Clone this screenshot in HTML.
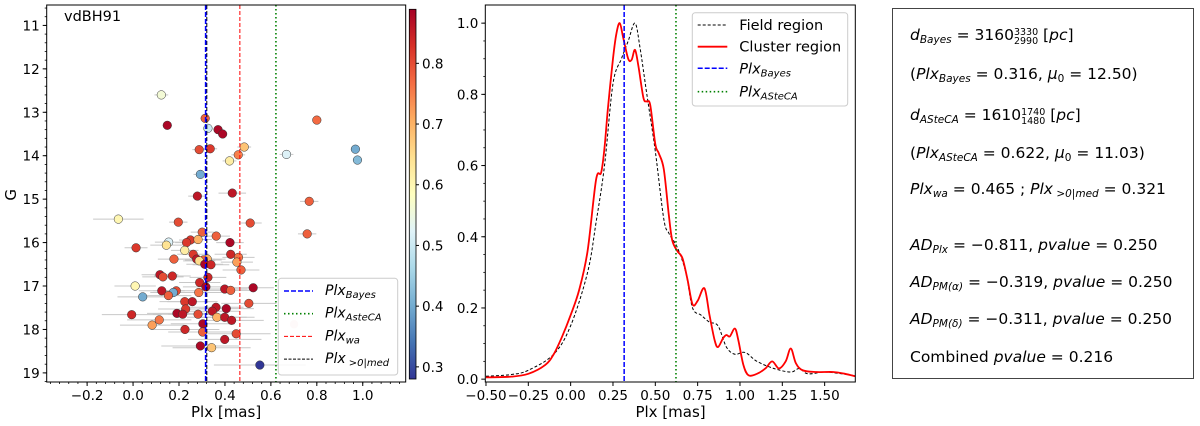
<!DOCTYPE html>
<html><head><meta charset="utf-8"><style>
html,body{margin:0;padding:0;background:#fff;}
svg{display:block;font-family:"DejaVu Sans","Liberation Sans",sans-serif;}
.box{position:absolute;left:892px;top:8px;width:302px;height:371px;border:1.3px solid #444;box-sizing:border-box;}
.t{position:absolute;left:17px;font-family:"DejaVu Sans","Liberation Sans",sans-serif;font-size:15.5px;white-space:nowrap;color:#000;line-height:1;}
i{font-style:italic;}
sub{font-size:10.5px;vertical-align:-3px;font-style:italic;}
.ss{display:inline-block;vertical-align:-4px;font-size:9.5px;line-height:9px;text-align:left;}
</style></head><body>
<div style="position:relative;width:1200px;height:426px;overflow:hidden;">
<svg id="chart" width="1200" height="426"></svg>
<div class="box">
<div class="t" style="top:19px"><i>d</i><sub>Bayes</sub> = 3160<span class="ss">3330<br>2990</span> [<i>pc</i>]</div>
<div class="t" style="top:58px">(<i>Plx</i><sub>Bayes</sub> = 0.316, <i>μ</i><sub style="font-style:normal">0</sub> = 12.50)</div>
<div class="t" style="top:99px"><i>d</i><sub>ASteCA</sub> = 1610<span class="ss">1740<br>1480</span> [<i>pc</i>]</div>
<div class="t" style="top:137px">(<i>Plx</i><sub>ASteCA</sub> = 0.622, <i>μ</i><sub style="font-style:normal">0</sub> = 11.03)</div>
<div class="t" style="top:173px"><i>Plx</i><sub>wa</sub> = 0.465 ; <i>Plx</i><sub> &gt;0|med</sub> = 0.321</div>
<div class="t" style="top:229px"><i>AD</i><sub>Plx</sub> = −0.811, <i>pvalue</i> = 0.250</div>
<div class="t" style="top:266px"><i>AD</i><sub>PM(α)</sub> = −0.319, <i>pvalue</i> = 0.250</div>
<div class="t" style="top:303px"><i>AD</i><sub>PM(δ)</sub> = −0.311, <i>pvalue</i> = 0.250</div>
<div class="t" style="top:341px">Combined <i>pvalue</i> = 0.216</div>
</div>
</div>
<script>
// ---- left panel data ----
const starPlx=[0.123,0.149,0.314,0.326,0.37,0.39,0.80,0.484,0.288,0.336,0.458,0.42,0.668,0.968,0.977,0.293,0.28,0.432,0.767,-0.064,0.197,0.51,0.758,0.301,0.362,0.25,0.233,0.283,0.155,0.145,0.422,0.013,0.225,0.262,0.425,0.459,0.277,0.178,0.323,0.306,0.288,0.452,0.312,0.339,0.470,0.117,0.13,0.171,0.326,0.29,0.009,0.317,0.523,0.399,0.425,0.125,0.188,0.175,0.286,0.154,0.042,0.225,0.258,0.504,0.229,0.361,0.406,0.345,0.191,0.216,0.283,-0.006,0.365,0.399,0.429,0.114,0.083,0.304,0.226,0.303,0.449,0.399,0.293,0.342,0.552];
const starG=[12.6,13.3,13.14,13.37,13.4,13.5,13.18,13.8,13.86,13.84,13.98,14.12,13.97,13.85,14.1,14.43,14.93,14.86,15.05,15.46,15.53,15.55,15.8,15.76,15.85,15.94,16.0,15.93,15.99,16.06,16.0,16.12,16.18,16.27,16.27,16.34,16.38,16.38,16.38,16.4,16.42,16.45,16.5,16.51,16.63,16.74,16.79,16.77,16.8,16.92,17.0,17.02,17.04,17.07,17.1,17.11,17.11,17.15,17.15,17.22,17.25,17.36,17.36,17.4,17.53,17.49,17.52,17.58,17.63,17.65,17.65,17.66,17.72,17.72,17.79,17.78,17.9,17.87,18.0,18.06,18.1,18.23,18.38,18.42,18.82];
const starProb=[0.56,0.88,0.78,0.5,0.88,0.88,0.77,0.68,0.8,0.82,0.75,0.62,0.52,0.4,0.42,0.4,0.86,0.86,0.78,0.6,0.8,0.8,0.78,0.78,0.78,0.82,0.82,0.7,0.52,0.64,0.88,0.82,0.62,0.82,0.84,0.76,0.86,0.78,0.7,0.78,0.65,0.72,0.88,0.84,0.78,0.86,0.8,0.84,0.84,0.84,0.6,0.88,0.88,0.86,0.78,0.86,0.8,0.4,0.76,0.78,0.4,0.82,0.86,0.8,0.82,0.86,0.88,0.86,0.88,0.86,0.8,0.84,0.7,0.86,0.86,0.76,0.72,0.88,0.84,0.78,0.8,0.86,0.88,0.68,0.28];
const starErr=[0.03,0.02,0.02,0.02,0.02,0.02,0.02,0.03,0.03,0.03,0.03,0.03,0.03,0.02,0.02,0.03,0.04,0.06,0.04,0.11,0.04,0.05,0.04,0.05,0.06,0.05,0.05,0.06,0.06,0.07,0.06,0.05,0.06,0.07,0.07,0.07,0.08,0.07,0.08,0.08,0.07,0.07,0.08,0.08,0.08,0.08,0.09,0.08,0.08,0.09,0.09,0.1,0.09,0.1,0.1,0.1,0.1,0.1,0.1,0.1,0.11,0.11,0.11,0.12,0.12,0.12,0.12,0.12,0.13,0.13,0.13,0.13,0.13,0.13,0.14,0.14,0.14,0.14,0.15,0.15,0.15,0.16,0.17,0.17,0.2];
const plxBayes=0.316, plxWa=0.465, plxAsteca=0.622, plxMed=0.321;
const leftXTicks=[-0.2,0.0,0.2,0.4,0.6,0.8,1.0];
const leftYTicks=[11,12,13,14,15,16,17,18,19];
const cbTicks=[0.3,0.4,0.5,0.6,0.7,0.8];
// ---- middle panel data ----
const clusterX=[-0.5,-0.35,-0.25,-0.15,-0.1,-0.05,0,0.05,0.1,0.15,0.18,0.2,0.22,0.25,0.27,0.29,0.31,0.34,0.36,0.38,0.4,0.43,0.45,0.47,0.5,0.52,0.55,0.58,0.6,0.63,0.66,0.69,0.72,0.75,0.79,0.82,0.85,0.87,0.9,0.92,0.94,0.97,0.99,1.02,1.05,1.1,1.15,1.19,1.23,1.27,1.3,1.33,1.37,1.45,1.55,1.62,1.68];
const clusterY=[0.005,0.007,0.015,0.04,0.07,0.12,0.18,0.25,0.36,0.56,0.58,0.65,0.76,0.9,0.97,1.0,0.96,0.9,0.897,0.925,0.88,0.79,0.78,0.77,0.66,0.635,0.59,0.46,0.39,0.36,0.34,0.28,0.21,0.22,0.255,0.18,0.11,0.09,0.115,0.124,0.12,0.142,0.11,0.04,0.011,0.015,0.03,0.05,0.03,0.05,0.086,0.045,0.025,0.02,0.02,0.015,0.008];
const fieldX=[-0.5,-0.35,-0.25,-0.1,0,0.1,0.15,0.2,0.25,0.3,0.34,0.38,0.41,0.45,0.5,0.55,0.58,0.63,0.68,0.72,0.77,0.82,0.87,0.92,0.97,1.03,1.1,1.2,1.3,1.35,1.4,1.5,1.6,1.68];
const fieldY=[0.008,0.013,0.025,0.07,0.15,0.3,0.44,0.6,0.83,0.9,0.95,1.0,0.93,0.8,0.64,0.45,0.41,0.37,0.3,0.2,0.18,0.16,0.15,0.09,0.07,0.075,0.05,0.03,0.02,0.03,0.015,0.02,0.015,0.01];
const midXTicks=[-0.5,-0.25,0.0,0.25,0.5,0.75,1.0,1.25,1.5];
const midYTicks=[0.0,0.2,0.4,0.6,0.8,1.0];

const NS='http://www.w3.org/2000/svg';
const svg=document.getElementById('chart');
function mk(tag,attrs,parent){const e=document.createElementNS(NS,tag);for(const k in attrs)e.setAttribute(k,attrs[k]);(parent||svg).appendChild(e);return e;}
function txt(s,x,y,attrs,parent){const e=mk('text',Object.assign({x:x,y:y,'font-size':13.5,fill:'#000'},attrs||{}),parent);e.textContent=s;return e;}

const cmStops=[[0,[49,54,149]],[0.1,[69,117,180]],[0.2,[116,173,209]],[0.3,[171,217,233]],[0.4,[224,243,248]],[0.5,[255,255,191]],[0.6,[254,224,144]],[0.7,[253,174,97]],[0.8,[244,109,67]],[0.9,[215,48,39]],[1,[165,0,38]]];
function cmap(t){t=Math.max(0,Math.min(1,t));for(let i=1;i<cmStops.length;i++){if(t<=cmStops[i][0]){const a=cmStops[i-1],b=cmStops[i],f=(t-a[0])/(b[0]-a[0]);return 'rgb('+a[1].map((v,j)=>Math.round(v+f*(b[1][j]-v))).join(',')+')';}}return 'rgb(165,0,38)';}

// ===== LEFT PANEL =====
const L={x0:46.7,x1:405.7,y0:5,y1:382,xmin:-0.376,xmax:1.187,ymin:10.53,ymax:19.21};
const lx=v=>L.x0+(v-L.xmin)/(L.xmax-L.xmin)*(L.x1-L.x0);
const ly=v=>L.y0+(v-L.ymin)/(L.ymax-L.ymin)*(L.y1-L.y0);
const gL=mk('g',{});


const cmin=0.28,cmax=0.889;
starPlx.forEach((p,i)=>{
  const l=mk('line',{x1:lx(p-starErr[i]),x2:lx(p+starErr[i]),y1:ly(starG[i]),y2:ly(starG[i]),stroke:'#c8c8c8','stroke-width':1},gL);
  
  
});
const fp=mk('circle',{cx:lx(0.701),cy:ly(17.88),r:4.2,fill:'#f4c8c0',opacity:0.7},gL);


function vline(g,x,color,dash,w,name){const l=mk('line',{x1:x,x2:x,y1:L.y0,y2:L.y1,stroke:color,'stroke-width':w,'stroke-dasharray':dash},g);}
starPlx.forEach((p,i)=>{
  const c=mk('circle',{cx:lx(p),cy:ly(starG[i]),r:4.3,fill:cmap((starProb[i]-cmin)/(cmax-cmin)),stroke:'#333','stroke-width':0.5},gL);
  
  
});
vline(gL,lx(plxAsteca),'#008000','1.5,2.5',1.6,'plx-asteca-line');
vline(gL,lx(plxWa),'#ff0000','4,2',1,'plx-wa-line');
vline(gL,lx(plxMed),'#000','4,2',1,'plx-med-line');
vline(gL,lx(plxBayes),'#0000ff','5,2',1.6,'plx-bayes-line');
mk('rect',{x:L.x0,y:L.y0,width:L.x1-L.x0,height:L.y1-L.y0,fill:'none',stroke:'#000','stroke-width':1},gL);
for(let v=-0.36;v<=1.18;v+=0.04){mk('line',{x1:lx(v),x2:lx(v),y1:L.y1,y2:L.y1+2,stroke:'#000','stroke-width':0.8},gL);}
for(let v=10.6;v<=19.2;v+=0.2){mk('line',{x1:L.x0-2,x2:L.x0,y1:ly(v),y2:ly(v),stroke:'#000','stroke-width':0.8},gL);}
leftXTicks.forEach(v=>{mk('line',{x1:lx(v),x2:lx(v),y1:L.y1,y2:L.y1+4,stroke:'#000'},gL);const t=txt((v<0?'−':'')+Math.abs(v).toFixed(1),lx(v),L.y1+18,{'text-anchor':'middle'},gL);});
leftYTicks.forEach(v=>{mk('line',{x1:L.x0-4,x2:L.x0,y1:ly(v),y2:ly(v),stroke:'#000'},gL);const t=txt(String(v),L.x0-7,ly(v)+5,{'text-anchor':'end'},gL);});
let t1=txt('Plx [mas]',lx(0.405),417,{'text-anchor':'middle','font-size':15},gL);
let t2=txt('G',16,ly(14.9),{'text-anchor':'middle','font-size':15,transform:'rotate(-90 16 '+ly(14.9)+')'},gL);
let t3=txt('vdBH91',64,21,{'font-size':14.5},gL);
const lg=mk('g',{},gL);


mk('rect',{x:278.3,y:278.3,width:119.4,height:96.7,rx:3,fill:'#fff','fill-opacity':0.85,stroke:'#ccc'},lg);
const lgItems=[['Bayes','#0000ff','5,2',1.6],['AsteCA','#008000','1.5,2.5',1.6],['wa','#ff0000','4,2',1],['>0|med','#000','3,1.5',1]];
lgItems.forEach((it,i)=>{const y=291+i*22.7;mk('line',{x1:284,x2:313,y1:y,y2:y,stroke:it[1],'stroke-dasharray':it[2],'stroke-width':it[3]},lg);
  const t=mk('text',{x:325,y:y+4,'font-size':14,'font-style':'italic'},lg);t.innerHTML='Plx<tspan font-size="10" dy="3">'+(it[0]==='>0|med'?' &gt;0|med':it[0])+'</tspan>';
  });
const CB={x0:409.3,x1:416,y0:9.3,y1:379,vmin:0.28,vmax:0.889};
const cby=v=>CB.y1-(v-CB.vmin)/(CB.vmax-CB.vmin)*(CB.y1-CB.y0);
const defs=mk('defs',{});
const grad=mk('linearGradient',{id:'cbg',x1:0,y1:1,x2:0,y2:0},defs);
cmStops.forEach(s=>mk('stop',{offset:s[0],'stop-color':'rgb('+s[1].join(',')+')'},grad));
const cbr=mk('rect',{x:CB.x0,y:CB.y0,width:CB.x1-CB.x0,height:CB.y1-CB.y0,fill:'url(#cbg)',stroke:'#000','stroke-width':0.8});


cbTicks.forEach(v=>{mk('line',{x1:CB.x1,x2:CB.x1+3,y1:cby(v),y2:cby(v),stroke:'#000'});const t=txt(v.toFixed(1),CB.x1+6,cby(v)+5,{});});

// ===== MIDDLE PANEL =====
const M={x0:485.3,x1:855.3,y0:5,y1:382,xmin:-0.504,xmax:1.681,ymin:-0.008,ymax:1.051};
const mx=v=>M.x0+(v-M.xmin)/(M.xmax-M.xmin)*(M.x1-M.x0);
const my=v=>M.y1-(v-M.ymin)/(M.ymax-M.ymin)*(M.y1-M.y0);
const gM=mk('g',{});


const clip=mk('clipPath',{id:'mclip'},defs);
mk('rect',{x:M.x0,y:M.y0,width:M.x1-M.x0,height:M.y1-M.y0},clip);
function smooth(xs,ys){const P=xs.map((x,i)=>[mx(x),my(ys[i])]);let d='M'+P[0][0]+','+P[0][1];
  for(let i=0;i<P.length-1;i++){const p0=P[Math.max(0,i-1)],p1=P[i],p2=P[i+1],p3=P[Math.min(P.length-1,i+2)];
    d+=' C'+(p1[0]+(p2[0]-p0[0])/6)+','+(p1[1]+(p2[1]-p0[1])/6)+' '+(p2[0]-(p3[0]-p1[0])/6)+','+(p2[1]-(p3[1]-p1[1])/6)+' '+p2[0]+','+p2[1];}
  return d;}
const cg=mk('g',{'clip-path':'url(#mclip)'},gM);
const fpth=mk('path',{d:smooth(fieldX,fieldY),fill:'none',stroke:'#000','stroke-width':1,'stroke-dasharray':'3,2'},cg);


const cpth=mk('path',{d:smooth(clusterX,clusterY),fill:'none',stroke:'#ff0000','stroke-width':1.8},cg);


function mvline(x,color,dash,w,name){const l=mk('line',{x1:x,x2:x,y1:M.y0,y2:M.y1,stroke:color,'stroke-width':w,'stroke-dasharray':dash},gM);}
mvline(mx(plxBayes),'#0000ff','5,2',1.5,'mid-plx-bayes-line');
mvline(mx(plxAsteca),'#008000','1.5,2.5',1.6,'mid-plx-asteca-line');
mk('rect',{x:M.x0,y:M.y0,width:M.x1-M.x0,height:M.y1-M.y0,fill:'none',stroke:'#000','stroke-width':1},gM);
for(let v=0.05;v<1.05;v+=0.05){mk('line',{x1:M.x0-2,x2:M.x0,y1:my(v),y2:my(v),stroke:'#000','stroke-width':0.8},gM);}
midXTicks.forEach(v=>{mk('line',{x1:mx(v),x2:mx(v),y1:M.y1,y2:M.y1+4,stroke:'#000'},gM);const t=txt((v<0?'−':'')+Math.abs(v).toFixed(2),mx(v),M.y1+18,{'text-anchor':'middle'},gM);});
midYTicks.forEach(v=>{mk('line',{x1:M.x0-4,x2:M.x0,y1:my(v),y2:my(v),stroke:'#000'},gM);const t=txt(v.toFixed(1),M.x0-7,my(v)+5,{'text-anchor':'end'},gM);});
let t4=txt('Plx [mas]',mx(0.59),417,{'text-anchor':'middle','font-size':15},gM);
const mg=mk('g',{},gM);


mk('rect',{x:692.3,y:12.7,width:155.4,height:93.3,rx:3,fill:'#fff','fill-opacity':0.85,stroke:'#ccc'},mg);
const mItems=[['Field region','#000','3,2',1,false],['Cluster region','#ff0000','',1.8,false],['Bayes','#0000ff','5,2',1.5,true],['ASteCA','#008000','1.5,2.5',1.6,true]];
const mYs=[25,46.7,68.3,91.7];
mItems.forEach((it,i)=>{const y=mYs[i];mk('line',{x1:697.7,x2:727.3,y1:y,y2:y,stroke:it[1],'stroke-dasharray':it[2],'stroke-width':it[3]},mg);
  const t=mk('text',{x:739.3,y:y+5,'font-size':14.5},mg);
  if(it[4]){t.setAttribute('font-style','italic');t.innerHTML='Plx<tspan font-size="10" dy="3">'+it[0]+'</tspan>';}else t.textContent=it[0];
  });
</script>
</body></html>
